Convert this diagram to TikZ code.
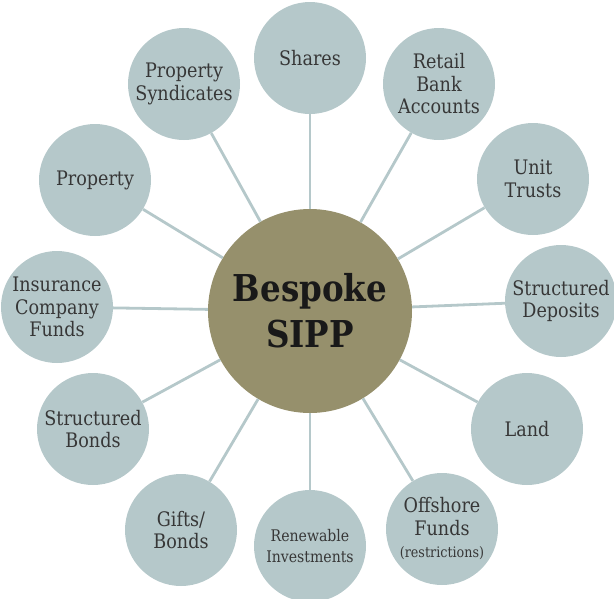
\documentclass[tikz,border=0pt]{standalone}
\usepackage{fontspec}
\setmainfont{DejaVu Serif}[FakeStretch=0.88]
\usepackage{tikz}
\usetikzlibrary{positioning}

\definecolor{leafblue}{RGB}{181,200,202}
\definecolor{hubolive}{RGB}{150,144,108}
\definecolor{inkgrey}{RGB}{55,55,55}

\begin{document}
\begin{tikzpicture}[
  x=1pt, y=-1pt,
  leaf/.style = {circle,fill=leafblue,minimum size=112pt,inner sep=0pt,align=center,
    text=inkgrey,font=\fontsize{20}{22.5}\selectfont},
  hub/.style = {circle,fill=hubolive,minimum size=204pt,inner sep=0pt,align=center,
    text=black!90,font=\bfseries\fontsize{37}{46}\selectfont},
  spoke/.style = {draw=leafblue,line width=2.8pt}
  ]
  \useasboundingbox (0,0) rectangle (614,598);
  \node[hub] (hub) at (310,311) {Bespoke\\SIPP};
  \node[leaf] (shares) at (310,58) {Shares};
  \node[leaf] (retail) at (439,84) {Retail\\Bank\\Accounts};
  \node[leaf] (unit) at (533,179) {Unit\\Trusts};
  \node[leaf] (deposits) at (561,301) {Structured\\Deposits};
  \node[leaf] (land) at (527,429) {Land};
  \node[leaf] (offshore) at (442,529) {Offshore\\Funds\\{\fontsize{14.5}{17}\selectfont(restrictions)}};
  \node[leaf,font=\fontsize{16}{21}\selectfont] (renewable) at (310,546) {Renewable\\Investments};
  \node[leaf] (gifts) at (181,530) {Gifts/\\Bonds};
  \node[leaf] (sbonds) at (93,429) {Structured\\Bonds};
  \node[leaf] (insurance) at (57,307) {Insurance\\Company\\Funds};
  \node[leaf] (property) at (95,180) {Property};
  \node[leaf] (syndicates) at (184,84) {Property\\Syndicates};
  \foreach \n in {shares,retail,unit,deposits,land,offshore,renewable,gifts,sbonds,insurance,property,syndicates}
    \draw[spoke] (hub) -- (\n);
\end{tikzpicture}
\end{document}
